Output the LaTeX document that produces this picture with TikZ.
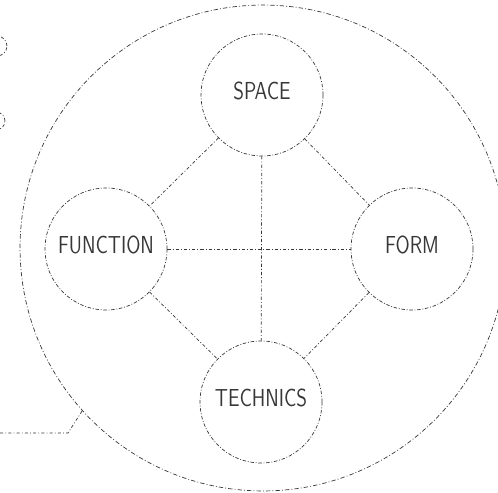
\documentclass[tikz,border=0pt]{standalone}
\usepackage{tikz}
\usetikzlibrary{positioning}
\definecolor{skink}{RGB}{55, 55, 55}
\newcommand{\sketchlabel}[1]{\raisebox{0.17cm}{\scalebox{0.8}[1]{#1}}}

\begin{document}
\begin{tikzpicture}[x=0.02cm, y=-0.02cm,
  ring/.style={circle, draw=skink, line width=0.4pt,
    dash pattern=on 2pt off 1pt on 0.5pt off 1pt,
    minimum size=2.44cm, inner sep=0pt,
    font=\fontsize{14}{14}\selectfont\sffamily, text=skink},
  link/.style={draw=skink, line width=0.4pt,
    dash pattern=on 1.8pt off 1.2pt on 0.5pt off 1.2pt}]

  \useasboundingbox (0,0) rectangle (498,493);
  \clip (0,0) rectangle (498,493);

  % --- outer ring ---
  \node[circle, draw=skink, line width=0.4pt,
    dash pattern=on 2.5pt off 1.2pt on 0.5pt off 1.2pt,
    minimum size=9.72cm, inner sep=0pt] (whole) at (263,248) {};

  % --- the four aspects ---
  \node[ring] (space)    at (262,95)  {\sketchlabel{SPACE}};
  \node[ring] (function) at (106,249) {\sketchlabel{FUNCTION}};
  \node[ring] (form)     at (412,249) {\sketchlabel{FORM}};
  \node[ring] (technics) at (261,402) {\sketchlabel{TECHNICS}};

  % --- links between aspects ---
  \draw[link] (space) -- (function);
  \draw[link] (space) -- (form);
  \draw[link] (function) -- (technics);
  \draw[link] (form) -- (technics);
  \draw[link] (function) -- (form);
  \draw[link] (space) -- (technics);

  % --- lead from the left edge ---
  \coordinate (lead) at (0,433);
  \coordinate (bend) at (68,433);
  \draw[link] (lead) -- (bend) -- (whole.222.8);

  % --- cut-off marks at the top left ---
  \draw[link] (-3,46) circle [radius=0.2cm];
  \draw[link] (-4,121) circle [radius=0.18cm];

\end{tikzpicture}
\end{document}
